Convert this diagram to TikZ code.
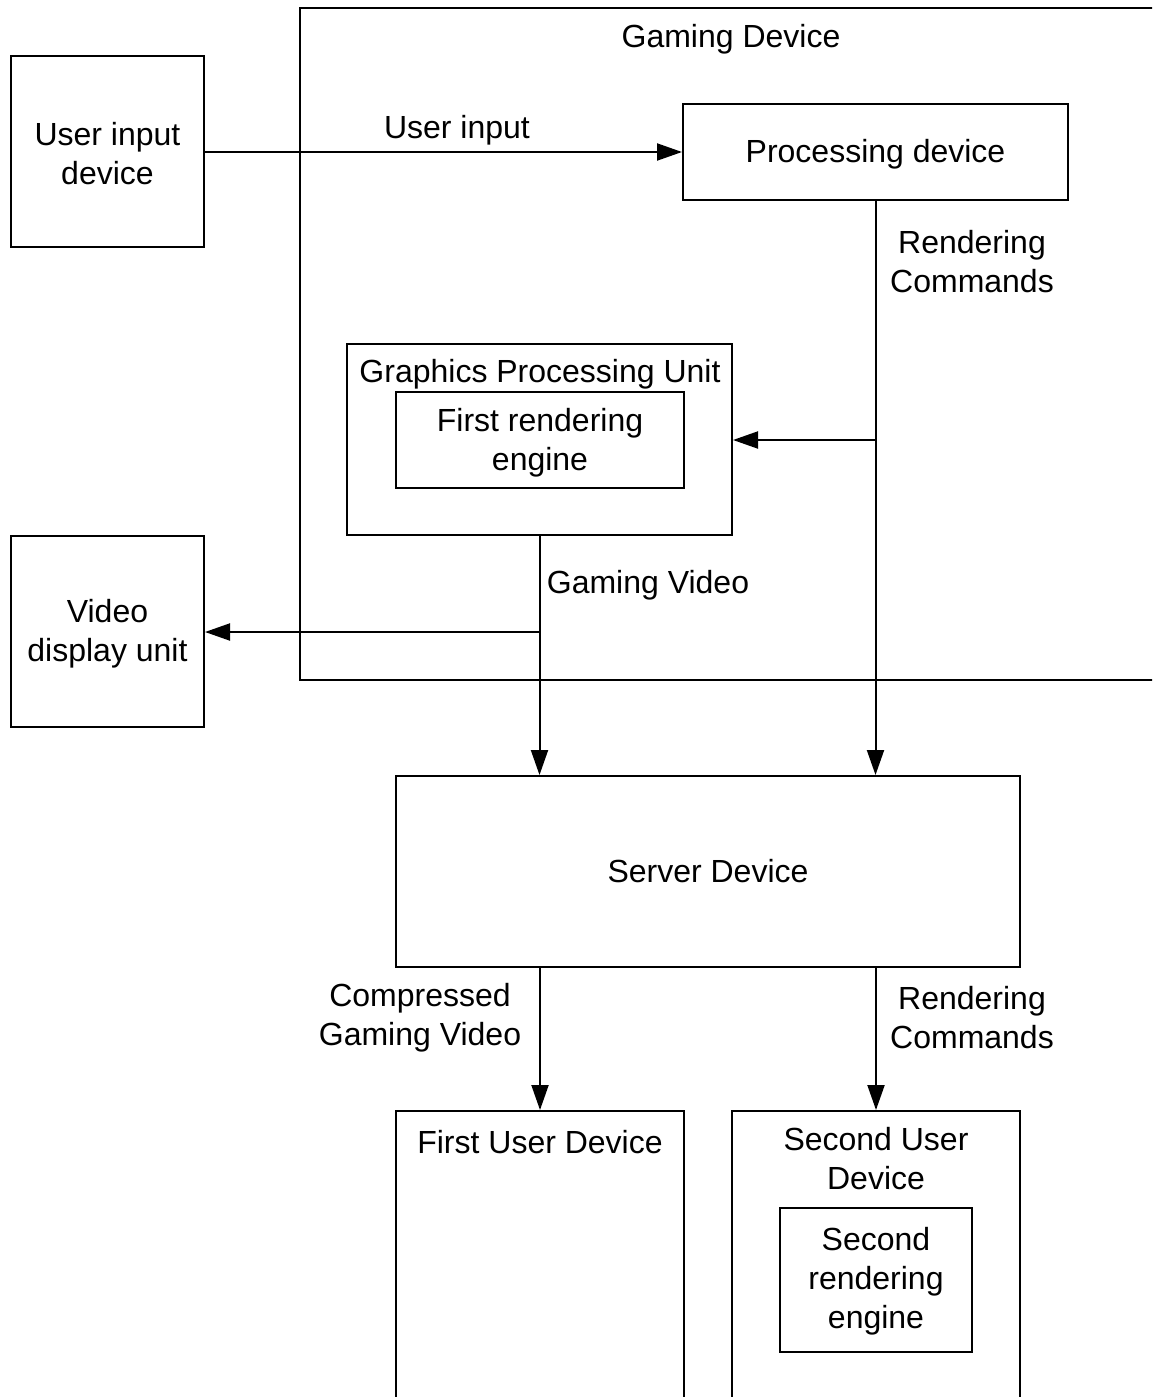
\documentclass[tikz,border=0pt]{standalone}
\usepackage{fontspec}
\setmainfont{Liberation Sans}
\usetikzlibrary{arrows.meta}
\begin{document}
\begin{tikzpicture}[x=1pt,y=-1pt,
  box/.style={draw, line width=2pt, rectangle, inner sep=0pt, anchor=center},
  lbl/.style={inner sep=0pt, align=center, font=\fontsize{32}{39}\selectfont},
  txt/.style={lbl, yshift=-2.5pt},
  conn/.style={line width=2pt},
  arr/.style={line width=2pt, -{Triangle[length=25pt,width=17pt]}},
]
\useasboundingbox (0,0) rectangle (1152,1397);
\clip (0,0) rectangle (1152,1397);
% boxes
\node[box, minimum width=870pt, minimum height=672pt] (gd) at (735,344) {};
\node[txt] (gdl) at (731,37) {Gaming Device};
\node[box, minimum width=193pt, minimum height=191pt] (uid) at (107.5,151.5) {};
\node[txt] (uidl) at (uid.center) {User input\\device};
\node[box, minimum width=385pt, minimum height=96pt] (proc) at (875.5,152) {};
\node[txt] (procl) at (proc.center) {Processing device};
\node[box, minimum width=385pt, minimum height=191pt] (gpu) at (539.5,439.5) {};
\node[txt] (gpul) at (540,372) {Graphics Processing Unit};
\node[box, minimum width=288pt, minimum height=96pt] (fre) at (540,440) {};
\node[txt] (frel) at (fre.center) {First rendering\\engine};
\node[box, minimum width=193pt, minimum height=191pt] (vdu) at (107.5,631.5) {};
\node[txt] (vdul) at (vdu.center) {Video\\display unit};
\node[box, minimum width=624pt, minimum height=191pt] (srv) at (708,871.5) {};
\node[lbl] (srvl) at (srv.center) {Server Device};
\node[box, minimum width=288pt, minimum height=330pt] (fud) at (540,1276) {};
\node[txt] (fudl) at (540,1140) {First User Device};
\node[box, minimum width=288pt, minimum height=330pt] (sud) at (876,1276) {};
\node[lbl] (sudl) at (876,1159) {Second User\\Device};
\node[box, minimum width=192pt, minimum height=144pt] (sre) at (876,1280) {};
\node[lbl, yshift=-1.5pt] (srel) at (sre.center) {Second\\rendering\\engine};
% labels
\node[txt] (uil) at (457,128) {User input};
\node[txt] (rc1) at (972,259) {Rendering\\Commands};
\node[txt] (gvl) at (648,583) {Gaming Video};
\node[txt] (cgv) at (420,1015) {Compressed\\Gaming Video};
\node[txt] (rc2) at (972,1015) {Rendering\\Commands};
% connectors
\draw[arr] (uid.east |- proc.west) -- (proc.west);
\draw[arr] (proc.south) -- (proc.south |- srv.north);
\coordinate (rcb) at (876,440);
\draw[arr] (rcb) -- (gpu.east |- rcb);
\draw[arr] (gpu.south) -- (gpu.south |- srv.north);
\coordinate (gvb) at (540,632);
\draw[arr] (gvb) -- (vdu.east |- gvb);
\draw[arr] (srv.south -| fud.north) -- (fud.north);
\draw[arr] (srv.south -| sud.north) -- (sud.north);
\end{tikzpicture}
\end{document}
